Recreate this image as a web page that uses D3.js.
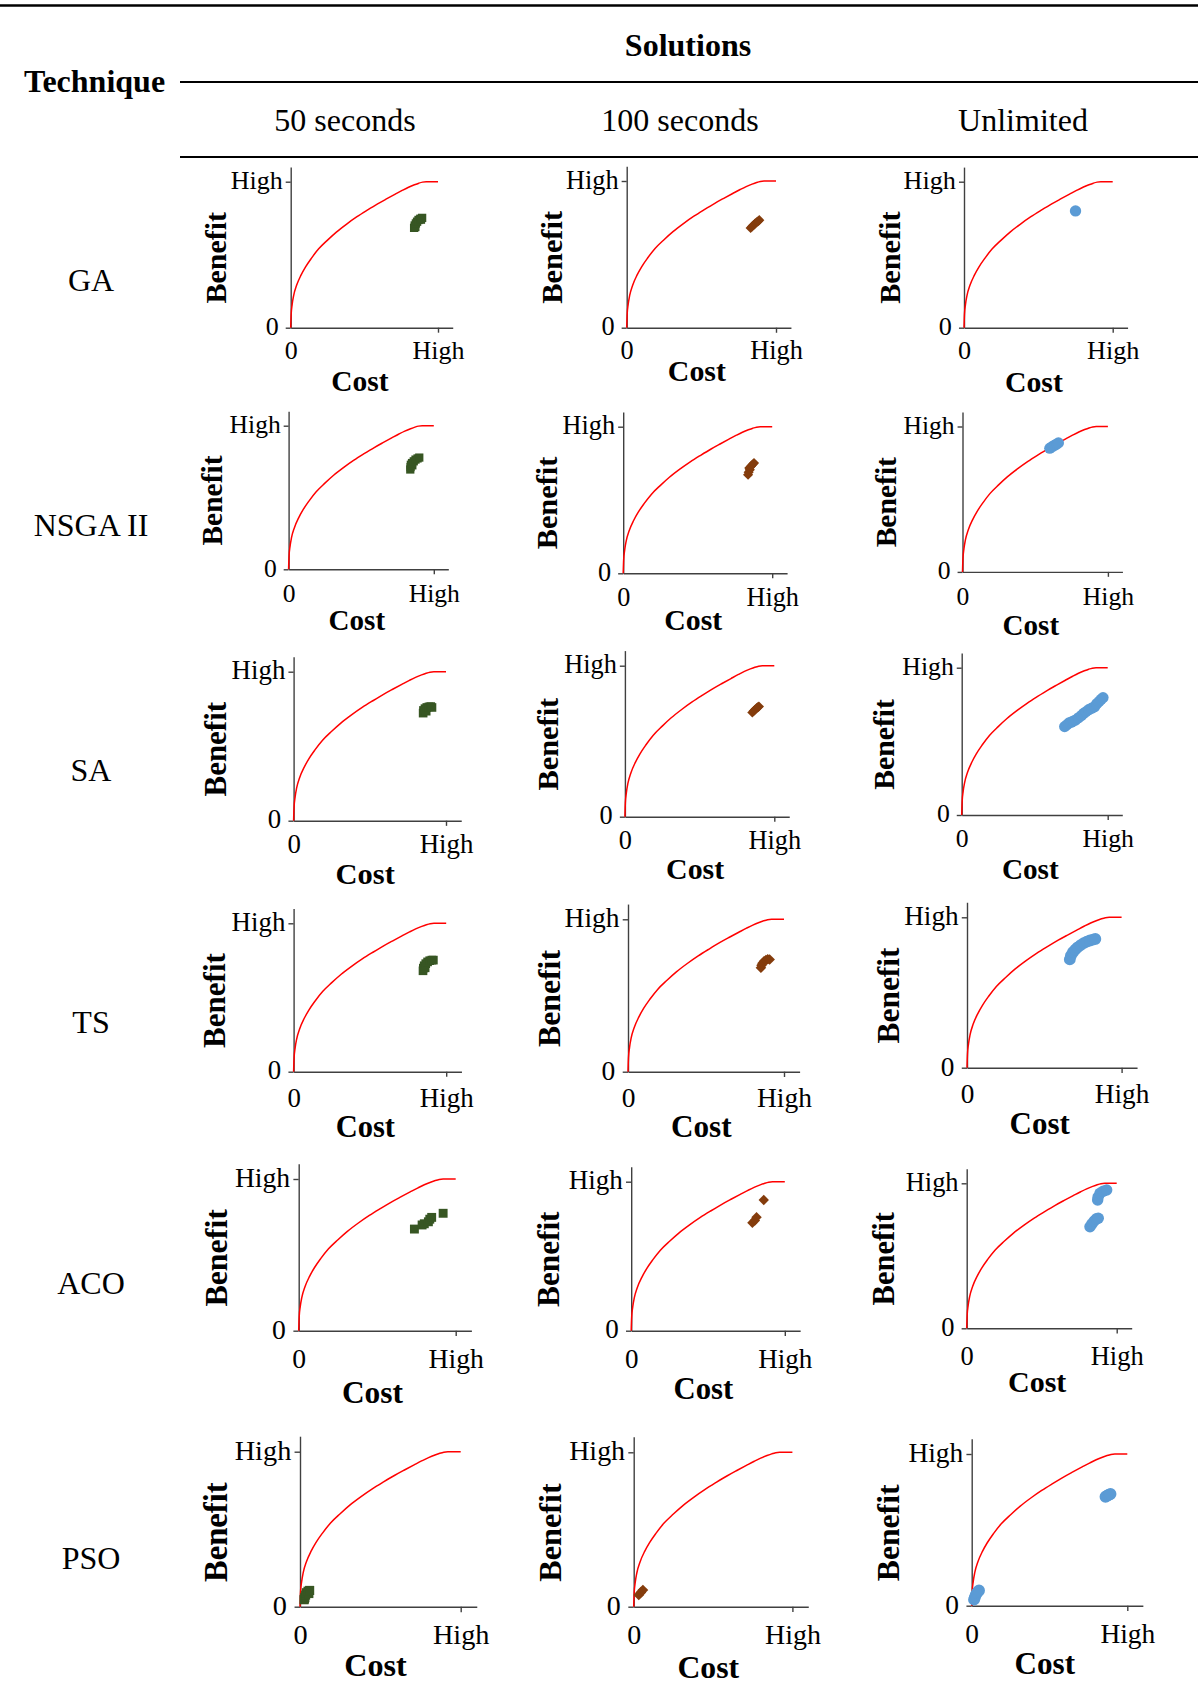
<!DOCTYPE html>
<html>
<head>
<meta charset="utf-8">
<script src="https://cdn.jsdelivr.net/npm/d3@7"></script>
<style>
  html, body { margin: 0; padding: 0; background: #fff; }
  svg { display: block; font-family: "Liberation Serif", "Times New Roman", serif; }
</style>
</head>
<body>
<svg id="fig" width="1198" height="1702"></svg>
<script>
// ---------- data ----------
const techniques = ["GA", "NSGA II", "SA", "TS", "ACO", "PSO"];
const timeLimits = ["50 seconds", "100 seconds", "Unlimited"];
const groupTitle = "Solutions";
const rowTitle = "Technique";
const xAxisTitle = "Cost";
const yAxisTitle = "Benefit";
const axisTicks = [0, 1];
const axisTickLabels = ["0", "High"];

// reference Pareto front (cost, benefit), normalised so that "High" = 1
const paretoFront = [
  [0, 0], [0.003, 0.09], [0.01, 0.16], [0.02, 0.22], [0.04, 0.29], [0.07, 0.36],
  [0.10, 0.415], [0.14, 0.475], [0.19, 0.54], [0.25, 0.60], [0.31, 0.655], [0.38, 0.71],
  [0.45, 0.76], [0.52, 0.805], [0.59, 0.848], [0.65, 0.882], [0.71, 0.915], [0.76, 0.942],
  [0.80, 0.962], [0.84, 0.979], [0.87, 0.99], [0.895, 0.997], [0.92, 1.0], [1.0, 1.0]
];

// solutions found by each technique (cost, benefit)
const ga50 = [[0.838, 0.684], [0.842, 0.700], [0.846, 0.690], [0.850, 0.714], [0.858, 0.726], [0.868, 0.738], [0.880, 0.746], [0.884, 0.740], [0.892, 0.752]];
const ga100 = [[0.830, 0.680], [0.840, 0.690], [0.850, 0.700], [0.860, 0.710], [0.870, 0.718], [0.880, 0.726], [0.888, 0.733]];
const gaUnl = [[0.750, 0.800]];

const nsga50 = [[0.838, 0.695], [0.840, 0.712], [0.842, 0.728], [0.852, 0.724], [0.850, 0.740], [0.862, 0.752], [0.874, 0.764], [0.888, 0.772], [0.900, 0.778]];
const nsga100 = [[0.838, 0.672], [0.842, 0.690], [0.850, 0.706], [0.846, 0.718], [0.858, 0.730], [0.868, 0.742], [0.878, 0.752]];
const nsgaUnl = [[0.600, 0.850], [0.612, 0.858], [0.624, 0.866], [0.636, 0.873], [0.648, 0.880], [0.660, 0.887]];

const sa50 = [[0.850, 0.722], [0.852, 0.740], [0.870, 0.735], [0.862, 0.752], [0.874, 0.760], [0.888, 0.764], [0.900, 0.766], [0.908, 0.760]];
const sa100 = [[0.853, 0.690], [0.862, 0.700], [0.872, 0.710], [0.882, 0.719], [0.891, 0.726], [0.897, 0.730]];
const saUnl = [[0.705, 0.600], [0.720, 0.612], [0.735, 0.625], [0.750, 0.630], [0.765, 0.638], [0.780, 0.645], [0.800, 0.660], [0.820, 0.675], [0.835, 0.690], [0.850, 0.700], [0.870, 0.715], [0.890, 0.725], [0.910, 0.735], [0.925, 0.755], [0.940, 0.770], [0.955, 0.785], [0.968, 0.797]];

const ts50 = [[0.848, 0.680], [0.850, 0.698], [0.862, 0.700], [0.856, 0.714], [0.866, 0.728], [0.878, 0.740], [0.892, 0.748], [0.906, 0.752], [0.916, 0.752]];
const ts100 = [[0.852, 0.682], [0.856, 0.698], [0.862, 0.712], [0.872, 0.724], [0.884, 0.732], [0.896, 0.738], [0.908, 0.736]];
const tsUnl = [[0.665, 0.720], [0.672, 0.745], [0.685, 0.768], [0.700, 0.785], [0.715, 0.800], [0.735, 0.815], [0.755, 0.828], [0.775, 0.838], [0.795, 0.846], [0.815, 0.852], [0.830, 0.856]];

const aco50 = [[0.737, 0.670], [0.786, 0.697], [0.800, 0.705], [0.826, 0.718], [0.835, 0.735], [0.847, 0.747], [0.920, 0.774]];
const aco100 = [[0.789, 0.725], [0.805, 0.740], [0.816, 0.761], [0.863, 0.877]];
const acoUnl = [[0.873, 0.885], [0.876, 0.905], [0.889, 0.931], [0.910, 0.945], [0.933, 0.954],
                [0.822, 0.700], [0.835, 0.720], [0.850, 0.740], [0.865, 0.755], [0.877, 0.759]];

const pso50 = [[0.025, 0.045], [0.028, 0.050], [0.030, 0.060], [0.035, 0.075], [0.040, 0.090], [0.055, 0.085], [0.050, 0.100], [0.060, 0.105]];
const pso100 = [[0.032, 0.076], [0.045, 0.092], [0.058, 0.108]];
const psoUnl = [[0.015, 0.040], [0.020, 0.055], [0.026, 0.070], [0.033, 0.083], [0.040, 0.093], [0.047, 0.100],
                [0.860, 0.718], [0.868, 0.724], [0.876, 0.728], [0.884, 0.732], [0.892, 0.736]];

const solutionSets = [
  [ga50, ga100, gaUnl],
  [nsga50, nsga100, nsgaUnl],
  [sa50, sa100, saUnl],
  [ts50, ts100, tsUnl],
  [aco50, aco100, acoUnl],
  [pso50, pso100, psoUnl]
];

// ---------- layout & style ----------
const seriesColors = ["#375623", "#843c0c", "#5b9bd5"];
const seriesShapes = ["square", "diamond", "circle"];
const frontColor = "#ff0000";
const axisColor = "#404040";

// panel frames: [x of origin, x of "High", y of "High", y of origin]
const panelFrames = [
  [[290.7, 438.0, 181.7, 327.7], [626.7, 776.0, 181.0, 327.7], [964.0, 1112.7, 181.7, 327.7]],
  [[288.6, 433.8, 425.7, 569.3], [623.2, 772.2, 426.7, 573.3], [962.5, 1107.9, 426.5, 571.9]],
  [[293.6, 446.0, 671.7, 820.7], [624.9, 774.3, 665.7, 816.7], [961.7, 1107.7, 667.7, 815.0]],
  [[293.6, 446.2, 923.3, 1071.7], [628.0, 784.0, 919.3, 1071.7], [967.0, 1121.6, 917.3, 1067.7]],
  [[298.7, 455.7, 1179.0, 1330.7], [631.2, 784.8, 1181.7, 1330.7], [966.7, 1116.7, 1183.3, 1328.3]],
  [[300.0, 460.7, 1451.7, 1606.7], [633.7, 792.4, 1452.3, 1606.7], [971.7, 1127.3, 1454.0, 1605.7]]
];
// label placement per row: tick label baseline below axis, Cost baseline below axis, Benefit offset
const panelLabelOffsets = [
  { tick: 31, cost: [63, 53, 64], ben: -75 },
  { tick: 33, cost: [61, 57, 63], ben: -77 },
  { tick: 32, cost: [63, 62, 64], ben: -78 },
  { tick: 35, cost: [65, 65, 66], ben: -79 },
  { tick: 37, cost: [72, 68, 64], ben: -83 },
  { tick: 37, cost: [69, 71, 68], ben: -84 }
];
const rowLabelY = [291, 536, 781, 1033, 1294, 1569];
const colHeaderX = [345, 680, 1023];

const svg = d3.select("#fig");

// ---------- table header ----------
svg.append("line").attr("x1", 0).attr("x2", 1198).attr("y1", 5.5).attr("y2", 5.5)
  .attr("stroke", "#000").attr("stroke-width", 2.5);
svg.append("line").attr("x1", 180).attr("x2", 1198).attr("y1", 82).attr("y2", 82)
  .attr("stroke", "#000").attr("stroke-width", 2);
svg.append("line").attr("x1", 180).attr("x2", 1198).attr("y1", 157).attr("y2", 157)
  .attr("stroke", "#000").attr("stroke-width", 2);

svg.append("text").text(groupTitle).attr("x", 688).attr("y", 56)
  .attr("text-anchor", "middle").attr("font-weight", "bold").attr("font-size", 32);
svg.append("text").text(rowTitle).attr("x", 24).attr("y", 92)
  .attr("font-weight", "bold").attr("font-size", 32);
svg.selectAll("text.colhead").data(timeLimits).join("text").attr("class", "colhead")
  .text(d => d).attr("x", (d, i) => colHeaderX[i]).attr("y", 131)
  .attr("text-anchor", "middle").attr("font-size", 32);
svg.selectAll("text.rowhead").data(techniques).join("text").attr("class", "rowhead")
  .text(d => d).attr("x", 91).attr("y", (d, i) => rowLabelY[i])
  .attr("text-anchor", "middle").attr("font-size", 32);

// ---------- panels ----------
const frontLine = d3.line().curve(d3.curveMonotoneX);

techniques.forEach((tech, r) => {
  timeLimits.forEach((lim, c) => {
    const [x0, x1, yHi, y0] = panelFrames[r][c];
    const k = (x1 - x0) / 147.5;
    const off = panelLabelOffsets[r];
    const g = svg.append("g").attr("class", "panel");

    const x = d3.scaleLinear().domain([0, 1.1]).range([x0, x0 + 1.1 * (x1 - x0)]);
    const y = d3.scaleLinear().domain([0, 1.1]).range([y0, y0 - 1.1 * (y0 - yHi)]);

    // y axis
    const ya = g.append("g").attr("transform", `translate(${x0},0)`)
      .call(d3.axisLeft(y).tickValues(axisTicks).tickFormat((d, i) => axisTickLabels[i])
        .tickSize(5 * k).tickSizeOuter(0).tickPadding(3 * k));
    ya.selectAll("text").attr("font-size", 26 * k).attr("fill", "#000")
      .attr("dy", null).attr("y", 7 * k)
      .attr("x", d => d === 0 ? -12 * k : -8 * k);

    // x axis
    const xa = g.append("g").attr("transform", `translate(0,${y0})`)
      .call(d3.axisBottom(x).tickValues(axisTicks).tickFormat((d, i) => axisTickLabels[i])
        .tickSize(5 * k).tickSizeOuter(0));
    xa.selectAll(".tick line").filter(d => d === 0).attr("y2", 0);
    xa.selectAll("text").attr("font-size", 26 * k).attr("fill", "#000")
      .attr("dy", null).attr("y", off.tick);

    [ya, xa].forEach(a => {
      a.attr("font-family", null).attr("font-size", null);
      a.selectAll("path, line").attr("stroke", axisColor).attr("stroke-width", 1.4);
    });

    // axis titles
    g.append("text").text(xAxisTitle)
      .attr("x", x0 + 0.47 * (x1 - x0)).attr("y", y0 + off.cost[c])
      .attr("text-anchor", "middle").attr("font-weight", "bold").attr("font-size", 29.5 * k);
    g.append("text").text(yAxisTitle)
      .attr("transform", `translate(${x0 + off.ben},${(yHi + y0) / 2 + 3}) rotate(-90)`)
      .attr("text-anchor", "middle").attr("dy", "0.35em")
      .attr("font-weight", "bold").attr("font-size", 30 * k);

    // Pareto front
    g.append("path").datum(paretoFront)
      .attr("d", frontLine.x(d => x(d[0])).y(d => y(d[1])))
      .attr("fill", "none").attr("stroke", frontColor).attr("stroke-width", 1.5);

    // solutions
    const shape = seriesShapes[c];
    const sym = d3.symbol()
      .type(shape === "circle" ? d3.symbolCircle : d3.symbolSquare)
      .size(shape === "circle" ? 100 * k * k : shape === "square" ? 70 * k * k : 50 * k * k);
    g.selectAll("path.sol").data(solutionSets[r][c]).join("path").attr("class", "sol")
      .attr("d", sym)
      .attr("transform", d => `translate(${x(d[0])},${y(d[1])})` + (shape === "diamond" ? " rotate(45)" : ""))
      .attr("fill", seriesColors[c]);
  });
});
</script>
</body>
</html>
